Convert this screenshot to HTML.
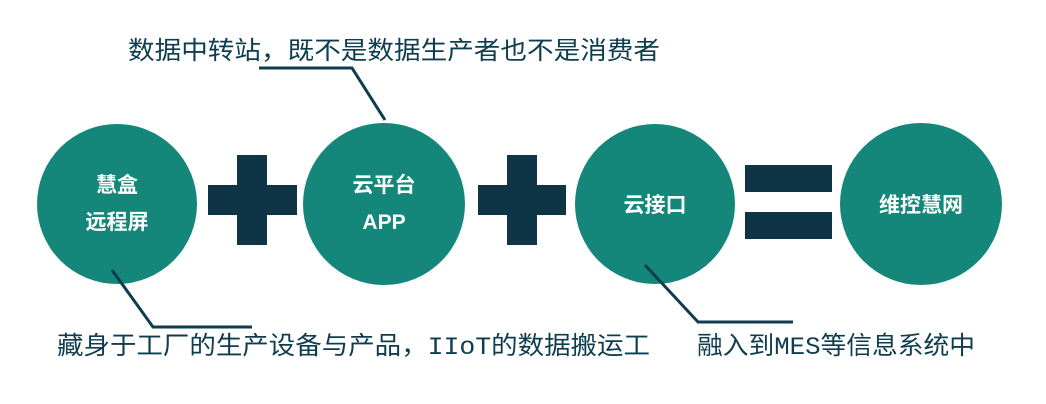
<!DOCTYPE html>
<html><head><meta charset="utf-8"><style>
html,body{margin:0;padding:0;background:#fff;width:1046px;height:404px;overflow:hidden}
</style></head><body>
<svg width="1046" height="404" xmlns="http://www.w3.org/2000/svg" font-family="'Liberation Mono','Noto Sans CJK SC',monospace">
<g fill="#14877a">
<circle cx="117" cy="204" r="80"/>
<circle cx="384" cy="204" r="81"/>
<circle cx="655" cy="204" r="80"/>
<circle cx="921" cy="204" r="81"/>
</g>
<g fill="#0e3446">
<rect x="237" y="155" width="30" height="90"/><rect x="208" y="185" width="89" height="30"/>
<rect x="507" y="155" width="30" height="90"/><rect x="478" y="185" width="88" height="30"/>
<rect x="745" y="165" width="87" height="27"/><rect x="745" y="212" width="87" height="27"/>
</g>
<g fill="none" stroke="#0e3d4f" stroke-width="3">
<polyline points="259,68 352,68 385,120"/>
<polyline points="112,270 153,327 252,327"/>
<polyline points="645,265 698,322 793,322"/>
</g>
<g fill="#fff" font-size="21" font-weight="bold" text-anchor="middle" font-family="'Liberation Sans','Noto Sans CJK SC',sans-serif">
<text x="117" y="192">慧盒</text>
<text x="117" y="229">远程屏</text>
<text x="384" y="192">云平台</text>
<text x="384" y="229">APP</text>
<text x="655" y="212">云接口</text>
<text x="921" y="212">维控慧网</text>
</g>
<g fill="#0e3d4f" font-size="25">
<text x="128" y="59" textLength="532" lengthAdjust="spacingAndGlyphs">数据中转站，既不是数据生产者也不是消费者</text>
<text x="57" y="354" textLength="593" lengthAdjust="spacingAndGlyphs">藏身于工厂的生产设备与产品，IIoT的数据搬运工</text>
<text x="697" y="354" textLength="278" lengthAdjust="spacingAndGlyphs">融入到MES等信息系统中</text>
</g>
</svg>
</body></html>
